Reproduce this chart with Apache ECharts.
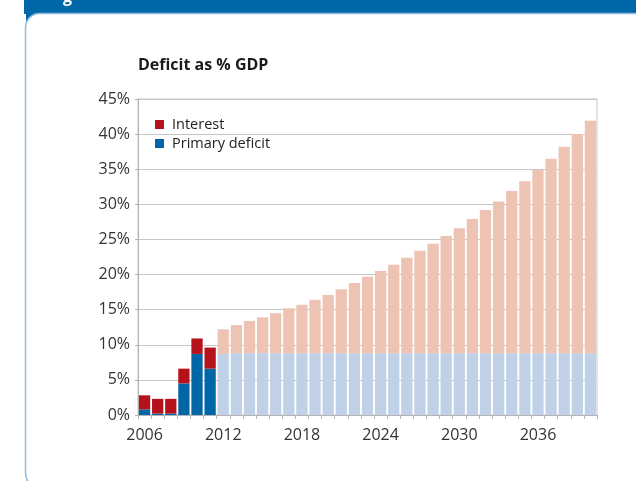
<!DOCTYPE html>
<html>
<head>
<meta charset="utf-8">
<script src="https://cdn.jsdelivr.net/npm/echarts@6/dist/echarts.min.js"></script>
<style>
  html, body { margin: 0; padding: 0; background: #ffffff; }
  #chart { width: 636px; height: 481px; }
</style>
</head>
<body>
<div id="chart"></div>
<script>
// Years shown on the category axis
const years = [];
for (let y = 2006; y <= 2040; y++) years.push(String(y));

// Number of leading years that are outturn (the rest are projections)
const actualCount = 6;

// Primary deficit, % of GDP
const primaryDeficit = [
  0.8, 0.2, 0.2, 4.5, 8.7, 6.6,
  8.7, 8.8, 8.8, 8.8, 8.8, 8.8, 8.8, 8.8, 8.8, 8.8, 8.8, 8.8,
  8.8, 8.8, 8.8, 8.8, 8.8, 8.8, 8.8, 8.8, 8.8, 8.8, 8.8, 8.8,
  8.8, 8.8, 8.8, 8.8, 8.8
];

// Interest payments, % of GDP
const interest = [
  2.0, 2.1, 2.1, 2.1, 2.2, 3.0,
  3.5, 4.0, 4.6, 5.1, 5.7, 6.4, 6.9, 7.6, 8.3, 9.1, 10.0, 10.9,
  11.7, 12.6, 13.6, 14.6, 15.6, 16.7, 17.8, 19.1, 20.4, 21.6, 23.1, 24.5,
  26.1, 27.7, 29.4, 31.2, 33.1
];

const yTicks = [0, 5, 10, 15, 20, 25, 30, 35, 40, 45];

const colors = {
  primary: '#0066a6',
  primaryProj: '#bfd0e7',
  interest: '#b5121b',
  interestProj: '#edc3b4'
};

function toItems(values, projColor) {
  return values.map((v, i) => i < actualCount
    ? v
    : { value: v, itemStyle: { color: projColor } });
}

const chart = echarts.init(document.getElementById('chart'), null, { renderer: 'canvas' });

const labelFont = "'Open Sans', 'Noto Sans', sans-serif";

chart.setOption({
  animation: false,
  backgroundColor: '#ffffff',
  graphic: [
    // header band
    { type: 'rect', shape: { x: 24, y: 0, width: 640, height: 14 }, style: { fill: '#0068a9' }, z: -20 },
    { type: 'rect', shape: { x: 26, y: 0, width: 640, height: 34 }, style: { fill: '#0068a9' }, z: -20 },
    { type: 'text', x: 63, y: 5, style: { text: 'g', fill: '#ffffff', font: "bold 16px 'Open Sans', sans-serif", verticalAlign: 'bottom' }, z: -15 },
    // white panel
    {
      type: 'rect',
      shape: { x: 25.5, y: 13.5, width: 700, height: 474, r: [14, 0, 0, 14] },
      style: { fill: '#ffffff', stroke: '#8fbbe0', lineWidth: 1.5 },
      z: -10
    }
  ],
  title: {
    text: 'Deficit as % GDP',
    left: 133,
    top: 52,
    textStyle: { fontFamily: labelFont, fontSize: 16, fontWeight: 'bold', color: '#1a1a1a' }
  },
  legend: {
    orient: 'vertical',
    left: 150,
    top: 112,
    itemWidth: 9,
    itemHeight: 9,
    itemGap: 4,
    icon: 'rect',
    data: ['Interest', 'Primary deficit'],
    textStyle: { fontFamily: labelFont, fontSize: 14.5, color: '#222', padding: [0, 0, 0, 3] }
  },
  grid: {
    left: 138,
    right: 39,
    top: 99,
    bottom: 66,
    show: true,
    borderColor: '#c6c6c6',
    borderWidth: 1,
    containLabel: false
  },
  xAxis: {
    type: 'category',
    data: years,
    boundaryGap: true,
    axisLine: { lineStyle: { color: '#b4b4b4' } },
    axisTick: { show: true, length: 4, interval: 0, lineStyle: { color: '#b4b4b4' } },
    axisLabel: {
      interval: 5,
      margin: 12,
      fontFamily: labelFont,
      fontSize: 16,
      color: '#333'
    }
  },
  yAxis: {
    type: 'value',
    min: 0,
    max: 45,
    interval: 5,
    axisLine: { show: true, lineStyle: { color: '#b4b4b4' } },
    axisTick: { show: true, length: 3, lineStyle: { color: '#b4b4b4' } },
    splitLine: { lineStyle: { color: '#c6c6c6' } },
    axisLabel: {
      margin: 8,
      fontFamily: labelFont,
      fontSize: 16,
      color: '#333',
      formatter: v => yTicks.includes(v) ? v + '%' : ''
    }
  },
  series: [
    {
      name: 'Primary deficit',
      type: 'bar',
      stack: 'deficit',
      barCategoryGap: '14%',
      itemStyle: { color: colors.primary },
      data: toItems(primaryDeficit, colors.primaryProj),
      z: 3
    },
    {
      name: 'Interest',
      type: 'bar',
      stack: 'deficit',
      barCategoryGap: '14%',
      itemStyle: { color: colors.interest },
      data: toItems(interest, colors.interestProj),
      z: 3
    }
  ]
});
</script>
</body>
</html>
